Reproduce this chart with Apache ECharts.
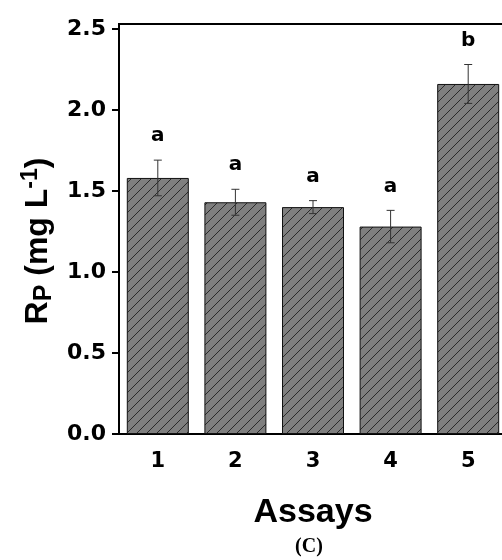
<!DOCTYPE html>
<html>
<head>
<meta charset="utf-8">
<script src="https://cdn.jsdelivr.net/npm/echarts@6/dist/echarts.min.js"></script>
<style>
  html, body { margin: 0; padding: 0; background: #fff; overflow: hidden; }
  #main { width: 508px; height: 560px; }
</style>
</head>
<body>
<div id="main"></div>
<script>
// assays on x, Rp values
var assays = ["1", "2", "3", "4", "5"];
var rpMean = [1.58, 1.43, 1.40, 1.28, 2.16];
var rpErr = [0.11, 0.08, 0.04, 0.10, 0.12];
var letters = ["a", "a", "a", "a", "b"];
var yTicks = [0, 0.5, 1.0, 1.5, 2.0, 2.5];

// hatch tile for bars
function hatch() {
    var c = document.createElement("canvas");
    c.width = 10;
    c.height = 10;
    var ctx = c.getContext("2d");
    ctx.fillStyle = "#7f7f7f";
    ctx.fillRect(0, 0, 10, 10);
    ctx.strokeStyle = "#2a2a2a";
    ctx.lineWidth = 1;
    ctx.beginPath();
    ctx.moveTo(0, 10);
    ctx.lineTo(10, 0);
    ctx.moveTo(-5, 5);
    ctx.lineTo(5, -5);
    ctx.moveTo(5, 15);
    ctx.lineTo(15, 5);
    ctx.stroke();
    return c;
}

var errData = [];
for (var i = 0; i < assays.length; i++) {
    errData.push([i, rpMean[i], rpErr[i]]);
}

var myChart = echarts.init(document.getElementById("main"));
var option = {
    animation: false,
    grid: {
        left: 119,
        top: 24,
        right: 1,
        bottom: 126,
        show: true,
        borderColor: "#000",
        borderWidth: 2,
    },
    xAxis: {
        type: "category",
        data: assays,
        name: "Assays",
        nameLocation: "middle",
        nameGap: 62,
        nameTextStyle: {
            fontFamily: "Liberation Sans",
            fontWeight: "bold",
            fontSize: 34,
            color: "#000",
        },
        axisLine: { lineStyle: { color: "#000", width: 2 } },
        axisTick: { alignWithLabel: true, length: 5, lineStyle: { color: "#000", width: 2 } },
        axisLabel: {
            margin: 17,
            fontFamily: "DejaVu Sans",
            fontWeight: "bold",
            fontSize: 21,
            color: "#000",
        },
    },
    yAxis: {
        type: "value",
        min: 0,
        max: 2.53,
        interval: 0.5,
        splitLine: { show: false },
        axisLine: { show: true, lineStyle: { color: "#000", width: 2 } },
        axisTick: { show: true, length: 7, customValues: yTicks, lineStyle: { color: "#000", width: 2 } },
        axisLabel: {
            margin: 13,
            customValues: yTicks,
            formatter: function(v) { return v.toFixed(1); },
            fontFamily: "DejaVu Sans",
            fontWeight: "bold",
            fontSize: 22,
            color: "#000",
        },
    },
    series: [{
            type: "bar",
            data: rpMean,
            barWidth: 62,
            itemStyle: {
                color: { image: hatch(), repeat: "repeat" },
                borderColor: "#111",
                borderWidth: 1,
            },
        },
        {
            type: "custom",
            data: errData,
            z: 5,
            renderItem: function(params, api) {
                var idx = api.value(0);
                var m = api.value(1);
                var e = api.value(2);
                var top = api.coord([idx, m + e]);
                var bot = api.coord([idx, m - e]);
                var x = top[0];
                var st = { stroke: "#333", lineWidth: 1 };
                return {
                    type: "group",
                    children: [
                        { type: "line", shape: { x1: x, y1: top[1], x2: x, y2: bot[1] }, style: st },
                        { type: "line", shape: { x1: x - 4, y1: top[1], x2: x + 4, y2: top[1] }, style: st },
                        { type: "line", shape: { x1: x - 4, y1: bot[1], x2: x + 4, y2: bot[1] }, style: st },
                        {
                            type: "text",
                            x: x,
                            y: top[1] - 14,
                            style: {
                                text: letters[params.dataIndex],
                                fontFamily: "DejaVu Sans",
                                fontWeight: "bold",
                                fontSize: 20,
                                fill: "#000",
                                align: "center",
                                verticalAlign: "bottom",
                            },
                        },
                    ],
                };
            },
        },
    ],
    graphic: [{
            type: "text",
            x: 38,
            y: 241,
            rotation: Math.PI / 2,
            style: {
                text: "{a|R}{b|P}{a| (mg L}{c|-1}{a|)}",
                align: "center",
                verticalAlign: "middle",
                rich: {
                    a: { fontFamily: "Liberation Sans", fontWeight: "bold", fontSize: 32, lineHeight: 38, fill: "#000" },
                    b: { fontFamily: "Liberation Sans", fontWeight: "bold", fontSize: 25, lineHeight: 25, verticalAlign: "bottom", fill: "#000" },
                    c: { fontFamily: "Liberation Sans", fontWeight: "bold", fontSize: 23, lineHeight: 23, verticalAlign: "top", fill: "#000" },
                },
            },
        },
        {
            type: "text",
            x: 309,
            y: 547,
            style: {
                text: "(C)",
                fontFamily: "Liberation Serif",
                fontWeight: "bold",
                fontSize: 20,
                fill: "#000",
                align: "center",
                verticalAlign: "middle",
            },
        },
    ],
};
myChart.setOption(option);
</script>
</body>
</html>
